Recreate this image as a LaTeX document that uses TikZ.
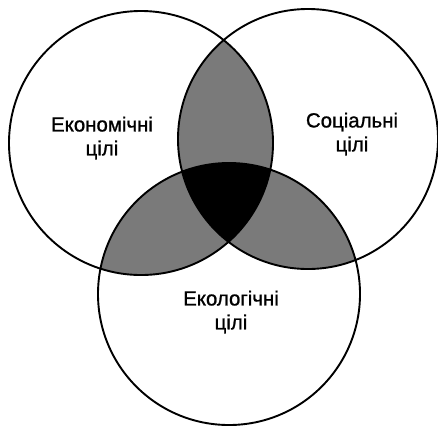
\documentclass[tikz,border=0pt]{standalone}
\usepackage{fontspec}
\setmainfont{Liberation Sans}
\newfontfamily\goalfont{Liberation Sans}[FakeBold=1.0]
\tikzset{
  ring/.style={draw=black, line width=1.9bp},
  pairzone/.style={fill=black!52},
  corezone/.style={fill=black},
  goal/.style={align=center, font=\goalfont\fontsize{20.5}{24}\selectfont, inner sep=0pt}
}
\begin{document}
\begin{tikzpicture}[x=1bp, y=-1bp]
\useasboundingbox (0,0) rectangle (438,426);
\coordinate (L) at (141,143);
\coordinate (R) at (308,139);
\coordinate (B) at (229,294);
\def\rL{132bp}\def\rR{130bp}\def\rB{131bp}
% pairwise overlaps
\begin{scope}
  \clip (L) circle[radius=\rL];
  \fill[pairzone] (R) circle[radius=\rR];
  \fill[pairzone] (B) circle[radius=\rB];
\end{scope}
\begin{scope}
  \clip (R) circle[radius=\rR];
  \fill[pairzone] (B) circle[radius=\rB];
\end{scope}
% triple overlap
\begin{scope}
  \clip (L) circle[radius=\rL];
  \clip (R) circle[radius=\rR];
  \fill[corezone] (B) circle[radius=\rB];
\end{scope}
% outlines
\draw[ring] (L) circle[radius=\rL];
\draw[ring] (R) circle[radius=\rR];
\draw[ring] (B) circle[radius=\rB];
% labels
\node[goal] (econ) at (102,138) {Економічні\\цілі};
\node[goal] (soc) at (352,134) {Соціальні\\цілі};
\node[goal] (eco) at (231,312) {Екологічні\\цілі};
\end{tikzpicture}
\end{document}
